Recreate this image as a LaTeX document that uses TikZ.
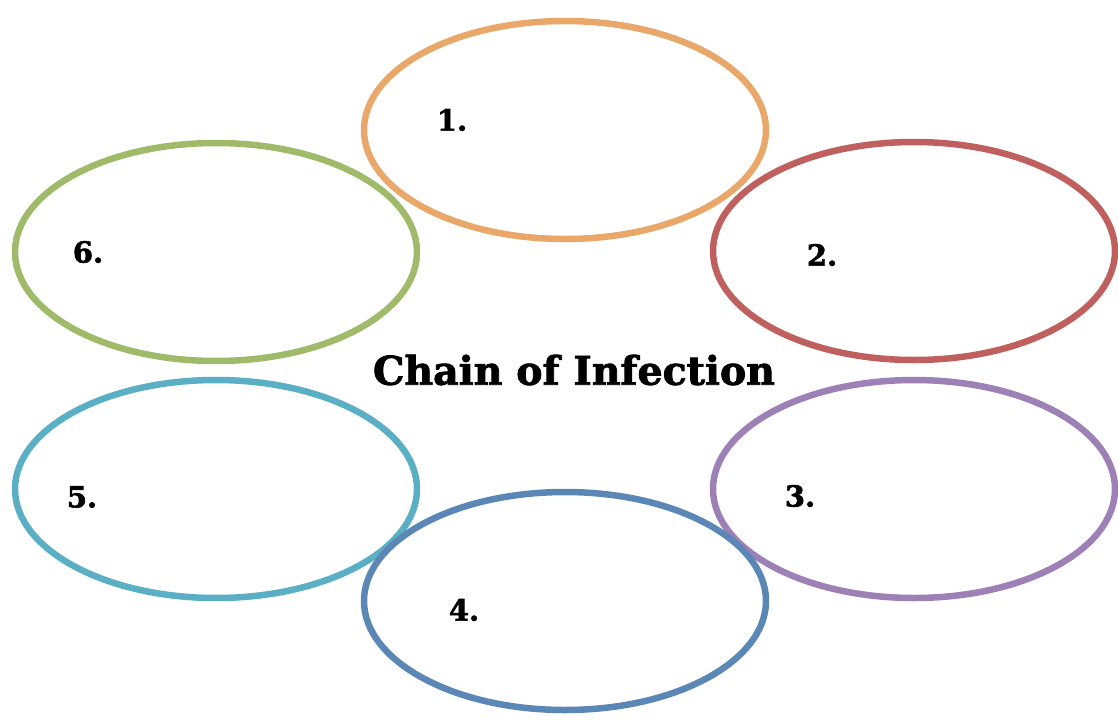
\documentclass[tikz,border=0pt]{standalone}
\usepackage{fontspec}
\setmainfont{DejaVu Serif}[BoldFeatures={FakeBold=2}]
\usetikzlibrary{shapes.geometric}
\definecolor{cOne}{HTML}{E9A86A}
\definecolor{cTwo}{HTML}{C0605E}
\definecolor{cThree}{HTML}{9D80B5}
\definecolor{cFour}{HTML}{5A87B5}
\definecolor{cFive}{HTML}{5AAFC4}
\definecolor{cSix}{HTML}{9FBB6A}
\tikzset{
  ring/.style={draw=#1, line width=6.5pt, ellipse, minimum width=402pt, minimum height=218pt, inner sep=0pt},
  numlabel/.style={font=\bfseries\fontsize{29}{33}\selectfont, text=black},
}
\begin{document}
\begin{tikzpicture}[x=1pt,y=-1pt]
\useasboundingbox (0,0) rectangle (1118,720);
\node[ring=cOne] (e1) at (565,130) {};
\node[ring=cSix] (e6) at (216,252) {};
\node[ring=cTwo] (e2) at (914,251) {};
\node[ring=cThree] (e3) at (914,489) {};
\node[ring=cFive] (e5) at (216,489) {};
\node[ring=cFour] (e4) at (565,601) {};
\node[numlabel] (n1) at (452,120) {1.};
\node[numlabel] (n2) at (822,255) {2.};
\node[numlabel] (n3) at (800,496) {3.};
\node[numlabel] (n4) at (464,610) {4.};
\node[numlabel] (n5) at (82,497) {5.};
\node[numlabel] (n6) at (88,252) {6.};
\node[font=\bfseries\fontsize{39.5}{44}\selectfont] (title) at (574,370) {Chain of Infection};
\end{tikzpicture}
\end{document}
